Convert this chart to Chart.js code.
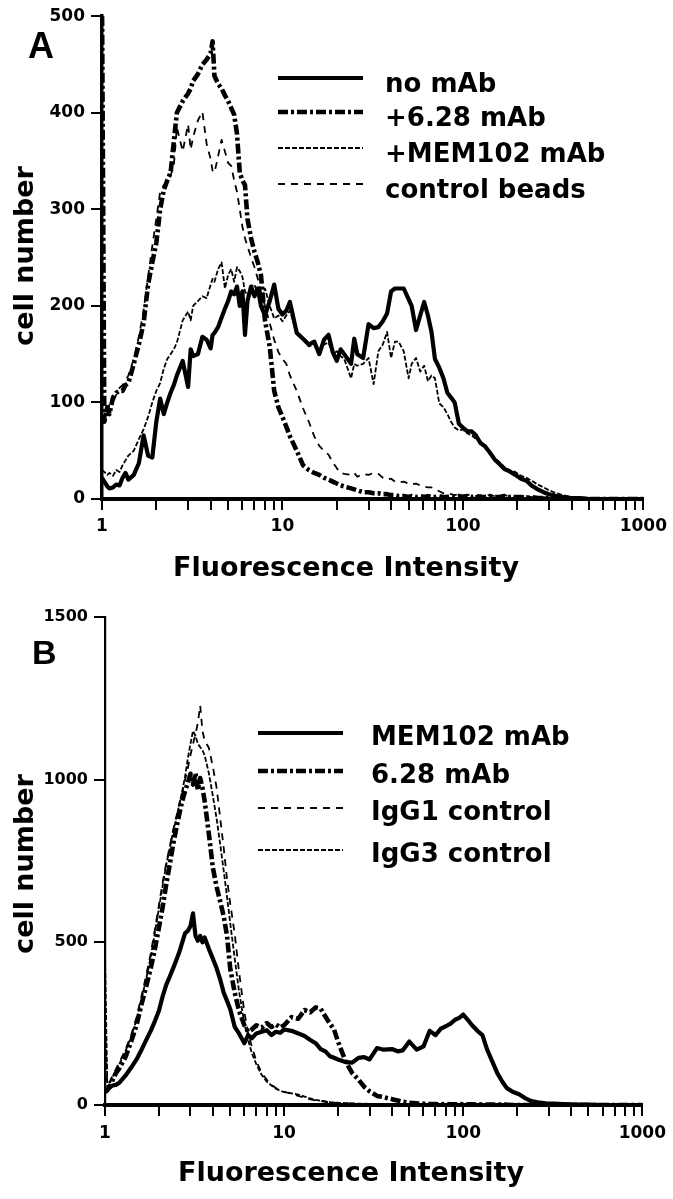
<!DOCTYPE html>
<html>
<head>
<meta charset="utf-8">
<script src="https://cdn.jsdelivr.net/npm/chart.js@4.4.1/dist/chart.umd.min.js"></script>
<style>
html,body{margin:0;padding:0;background:#fff;}
#wrap{position:relative;width:673px;height:1199px;overflow:hidden;background:#fff;}
canvas{position:absolute;left:0;}
#cA{top:0;}
#cB{top:590px;}
</style>
</head>
<body>
<div id="wrap">
<canvas id="cA" width="673" height="590"></canvas>
<canvas id="cB" width="673" height="609"></canvas>
</div>
<script>
// ---------- shared texts & ticks ----------
const xTitleText = 'Fluorescence Intensity';
const yTitleText = 'cell number';
const xTickValues = [1,2,3,4,5,6,7,8,9,10,20,30,40,50,60,70,80,90,100,200,300,400,500,600,700,800,900,1000];
const xTickLabels = [1,10,100,1000];
const yTicksA = [0,100,200,300,400,500];
const yTicksB = [0,500,1000,1500];

// ---------- panel A ----------
const labelsA = ['no mAb', '+6.28 mAb', '+MEM102 mAb', 'control beads'];
const fluorA = [
1, 1.03, 1.07, 1.1, 1.15, 1.2, 1.25, 1.3, 1.35, 1.4,
1.5, 1.6, 1.7, 1.8, 1.9, 2.0, 2.1, 2.2, 2.3, 2.4,
2.5, 2.6, 2.8, 3.0, 3.1, 3.2, 3.4, 3.6, 3.8, 4.0,
4.1, 4.2, 4.4, 4.6, 4.8, 5.0, 5.2, 5.4, 5.6, 5.8,
6.0, 6.2, 6.4, 6.7, 7.0, 7.3, 7.6, 8.0, 8.5, 9.0,
9.5, 10, 10.5, 11, 12, 13, 14, 15, 16, 17,
18, 19, 20, 21, 22, 24, 25, 26, 28, 30,
32, 34, 36, 38, 40, 42, 44, 47, 50, 52,
55, 58, 61, 64, 67, 70, 74, 78, 82, 86,
90, 95, 100, 106, 112, 118, 125, 132, 140, 150,
160, 170, 180, 195, 210, 225, 240, 260, 280, 300,
330, 360, 400, 450, 500, 560, 630, 700, 800, 900,
1000];
const noMabA = [
22, 18, 13, 11, 12, 15, 14, 22, 27, 20,
25, 37, 66, 45, 43, 80, 104, 88, 100, 110,
118, 128, 143, 116, 155, 148, 150, 168, 165, 156,
170, 172, 178, 188, 197, 205, 215, 212, 220, 200,
215, 170, 205, 220, 210, 218, 200, 190, 205, 222,
197, 191, 195, 204, 172, 166, 160, 163, 150, 165,
170, 152, 143, 155, 150, 140, 166, 150, 146, 181,
177, 178, 184, 192, 215, 218, 218, 218, 207, 200,
175, 190, 204, 190, 173, 145, 136, 125, 110, 105,
100, 78, 74, 70, 70, 66, 58, 55, 49, 41,
36, 31, 29, 25, 21, 19, 14, 10, 7, 5,
3, 2, 1, 1, 0, 0, 0, 0, 0, 0,
0];
const mab628A = [
520, 80, 95, 88, 105, 110, 112, 112, 118, 120,
140, 160, 182, 222, 245, 265, 300, 320, 330, 338,
370, 400, 412, 420, 425, 433, 440, 450, 455, 462,
474, 438, 430, 425, 418, 412, 405, 398, 378, 338,
330, 325, 290, 270, 256, 245, 232, 185, 158, 112,
95, 85, 75, 65, 50, 35, 30, 27, 25, 22,
20, 18, 16, 14, 13, 11, 10, 9, 7, 7,
6, 6, 5, 5, 4, 4, 3, 3, 2, 3,
2, 3, 2, 3, 2, 2, 3, 2, 2, 3,
2, 3, 2, 3, 2, 3, 2, 2, 3, 2,
2, 3, 2, 2, 2, 1, 2, 1, 1, 1,
1, 1, 0, 0, 0, 0, 0, 0, 0, 0,
0];
const mem102A = [
30, 28, 25, 27, 24, 30, 28, 35, 40, 45,
50, 62, 72, 85, 100, 112, 120, 135, 145, 150,
155, 162, 185, 194, 185, 200, 205, 210, 208, 222,
228, 225, 238, 245, 218, 232, 238, 225, 240, 236,
230, 215, 211, 220, 222, 212, 205, 218, 200, 187,
190, 184, 190, 195, 172, 165, 158, 160, 150, 160,
162, 150, 153, 148, 145, 125, 140, 138, 140, 146,
119, 153, 160, 173, 146, 163, 163, 153, 125, 140,
146, 132, 138, 122, 128, 125, 99, 95, 88, 80,
74, 71, 72, 68, 66, 62, 60, 55, 50, 42,
38, 33, 30, 28, 24, 22, 19, 15, 12, 9,
6, 4, 2, 1, 1, 0, 0, 0, 0, 0,
0];
const beadsA = [
85, 82, 90, 98, 100, 108, 115, 118, 122, 128,
145, 168, 195, 230, 262, 290, 318, 325, 330, 335,
345, 385, 360, 388, 362, 375, 392, 401, 368, 352,
340, 338, 355, 372, 360, 348, 345, 330, 318, 300,
282, 270, 262, 250, 240, 228, 215, 200, 182, 165,
152, 145, 140, 128, 112, 94, 80, 65, 55, 50,
46, 38, 32, 27, 26, 25, 27, 23, 26, 25,
27, 26, 22, 20, 21, 18, 17, 18, 16, 15,
16, 14, 13, 12, 12, 10, 8, 6, 5, 5,
4, 5, 4, 4, 5, 3, 4, 3, 4, 3,
3, 4, 3, 3, 2, 3, 2, 2, 2, 1,
1, 1, 1, 0, 1, 0, 0, 0, 0, 0,
0];

// ---------- panel B ----------
const labelsB = ['MEM102 mAb', '6.28 mAb', 'IgG1 control', 'IgG3 control'];
const fluorB = [
1, 1.03, 1.07, 1.1, 1.15, 1.2, 1.3, 1.4, 1.5, 1.6,
1.7, 1.8, 1.9, 2.0, 2.1, 2.2, 2.3, 2.4, 2.5, 2.6,
2.7, 2.8, 2.9, 3.0, 3.1, 3.2, 3.3, 3.4, 3.5, 3.6,
3.8, 4.0, 4.2, 4.4, 4.6, 4.8, 5.0, 5.3, 5.6, 6.0,
6.3, 6.6, 7.0, 7.5, 8.0, 8.5, 9.0, 9.5, 10, 11,
12, 13, 14, 15, 16, 17, 18, 19, 20, 22,
24, 26, 28, 30, 33, 36, 40, 43, 46, 50,
55, 60, 65, 70, 75, 80, 85, 90, 95, 100,
106, 112, 120, 128, 136, 145, 155, 165, 175, 190,
205, 220, 240, 260, 290, 320, 360, 400, 450, 500,
600, 700, 800, 1000];
const mem102B = [
45, 48, 55, 60, 62, 68, 90, 115, 140, 170,
200, 228, 258, 290, 335, 370, 395, 420, 445, 470,
500, 528, 535, 550, 589, 520, 505, 520, 500, 515,
480, 450, 420, 385, 345, 320, 295, 240, 220, 190,
215, 205, 220, 225, 230, 215, 225, 222, 232, 228,
220, 212, 200, 190, 172, 165, 150, 145, 140, 132,
130, 145, 147, 140, 175, 170, 172, 165, 168, 195,
170, 180, 228, 215, 235, 242, 250, 262, 268, 278,
262, 245, 228, 215, 170, 135, 98, 72, 52, 40,
33, 22, 12, 8, 5, 4, 3, 2, 1, 1,
0, 0, 0, 0];
const mab628B = [
40, 45, 60, 75, 98, 112, 147, 195, 245, 310,
365, 420, 480, 545, 610, 680, 740, 800, 850, 895,
935, 965, 990, 1018, 985, 1020, 968, 1005, 975, 935,
834, 730, 670, 625, 580, 520, 420, 345, 290, 245,
225, 232, 245, 238, 252, 240, 248, 238, 245, 270,
265, 292, 285, 300, 296, 272, 250, 232, 195, 135,
98, 78, 56, 42, 28, 24, 18, 14, 10, 7,
5, 4, 3, 3, 2, 3, 2, 2, 3, 2,
2, 2, 1, 2, 1, 1, 1, 1, 1, 0,
0, 0, 0, 0, 0, 0, 0, 0, 0, 0,
0, 0, 0, 0];
const igg1B = [
250, 60, 75, 90, 110, 130, 170, 215, 270, 335,
400, 465, 540, 615, 685, 745, 795, 845, 885, 925,
960, 1000, 1035, 1075, 1110, 1140, 1175, 1228, 1150, 1120,
1098, 1040, 975, 880, 790, 695, 620, 525, 410, 285,
220, 180, 135, 98, 78, 62, 52, 45, 40, 35,
28, 22, 17, 14, 12, 10, 8, 7, 6, 5,
4, 4, 3, 3, 3, 2, 2, 2, 2, 1,
1, 1, 1, 1, 0, 1, 0, 0, 1, 0,
0, 0, 0, 0, 0, 0, 0, 0, 0, 0,
0, 0, 0, 0, 0, 0, 0, 0, 0, 0,
0, 0, 0, 0];
const igg3B = [
470, 55, 70, 85, 105, 125, 165, 210, 262, 325,
390, 455, 530, 605, 675, 740, 790, 840, 880, 925,
965, 1010, 1065, 1110, 1150, 1135, 1110, 1100, 1090, 1075,
1020, 950, 880, 800, 720, 640, 560, 450, 350, 250,
200, 160, 125, 92, 72, 60, 50, 44, 40, 36,
32, 26, 20, 16, 13, 11, 9, 8, 7, 6,
5, 4, 4, 3, 3, 3, 2, 2, 2, 2,
1, 1, 1, 1, 1, 1, 0, 1, 0, 0,
0, 0, 0, 0, 0, 0, 0, 0, 0, 0,
0, 0, 0, 0, 0, 0, 0, 0, 0, 0,
0, 0, 0, 0];

// ---------- drawing ----------
Chart.defaults.font.family = "'DejaVu Sans', sans-serif";
Chart.defaults.font.weight = 'bold';
Chart.defaults.color = '#000';

const lineStyles = {
  solid:   { borderWidth: 4.2, borderDash: [] },
  dashDot: { borderWidth: 4.6, borderDash: [10, 3, 3, 3] },
  fine:    { borderWidth: 1.8, borderDash: [5, 2] },
  dashed:  { borderWidth: 1.8, borderDash: [7, 6] }
};

function series(xs, ys) { return xs.map((x, i) => ({ x: x, y: ys[i] })); }

function makeDataset(label, xs, ys, style) {
  const s = lineStyles[style];
  return {
    label: label,
    data: series(xs, ys),
    borderColor: '#000',
    borderWidth: s.borderWidth,
    borderDash: s.borderDash,
    borderJoinStyle: 'round',
    borderCapStyle: 'butt',
    pointRadius: 0,
    tension: 0,
    fill: false
  };
}

const decor = {
  id: 'decor',
  afterDraw(chart, args, o) {
    const ctx = chart.ctx;
    ctx.save();
    ctx.fillStyle = '#000';
    ctx.strokeStyle = '#000';
    ctx.textBaseline = 'alphabetic';
    ctx.font = o.letterFont;
    ctx.textAlign = 'left';
    ctx.fillText(o.letter, o.letterX, o.letterY);
    ctx.font = o.titleFont;
    ctx.textAlign = 'center';
    ctx.fillText(o.xTitle, o.xTitleX, o.xTitleY);
    ctx.save();
    ctx.translate(o.yTitleX, o.yTitleY);
    ctx.rotate(-Math.PI / 2);
    ctx.fillText(o.yTitle, 0, 0);
    ctx.restore();
    ctx.font = o.legendFont;
    ctx.textAlign = 'left';
    chart.data.datasets.forEach((ds, i) => {
      const y = o.legendRows[i];
      ctx.save();
      ctx.lineWidth = ds.borderWidth;
      ctx.setLineDash(ds.borderDash || []);
      ctx.lineCap = 'butt';
      ctx.beginPath();
      ctx.moveTo(o.legendX1, y);
      ctx.lineTo(o.legendX2, y);
      ctx.stroke();
      ctx.restore();
      ctx.fillText(ds.label, o.legendTextX, y + o.legendTextDy);
    });
    ctx.restore();
  }
};

function makeChart(id, p) {
  return new Chart(document.getElementById(id), {
    type: 'line',
    data: { datasets: p.datasets },
    plugins: [decor],
    options: {
      responsive: false,
      animation: false,
      events: [],
      layout: { padding: { left: 0, top: p.top, right: p.right, bottom: 0 } },
      plugins: {
        legend: { display: false },
        tooltip: { enabled: false },
        decor: p.decor
      },
      scales: {
        x: {
          type: 'logarithmic',
          min: 1, max: 1000,
          afterBuildTicks: (s) => { s.ticks = xTickValues.map(v => ({ value: v })); },
          afterFit: (s) => { s.height = p.xHeight; },
          ticks: {
            autoSkip: false, maxRotation: 0, minRotation: 0, padding: p.xTickPad,
            font: { size: p.xTickSize, weight: 'bold' }, color: '#000',
            callback: (v) => xTickLabels.includes(v) ? String(v) : ''
          },
          grid: { drawOnChartArea: false, drawTicks: true, tickLength: 11, color: '#000', lineWidth: 2 },
          border: { display: true, color: '#000', width: 4 }
        },
        y: {
          type: 'linear',
          min: 0, max: p.yMax,
          afterBuildTicks: (s) => { s.ticks = p.yTicks.map(v => ({ value: v })); },
          afterFit: (s) => { s.width = p.yWidth; },
          ticks: {
            padding: p.yTickPad,
            font: { size: p.yTickSize, weight: 'bold' }, color: '#000',
            callback: (v) => String(v)
          },
          grid: { drawOnChartArea: false, drawTicks: true, tickLength: 11, color: '#000', lineWidth: 2 },
          border: { display: true, color: '#000', width: p.yBorder }
        }
      }
    }
  });
}

makeChart('cA', {
  datasets: [
    makeDataset(labelsA[0], fluorA, noMabA, 'solid'),
    makeDataset(labelsA[1], fluorA, mab628A, 'dashDot'),
    makeDataset(labelsA[2], fluorA, mem102A, 'fine'),
    makeDataset(labelsA[3], fluorA, beadsA, 'dashed')
  ],
  top: 12, right: 29, xHeight: 91, yWidth: 102, yMax: 500, yTicks: yTicksA,
  xTickPad: 6, xTickSize: 17, yTickPad: 6, yTickSize: 17, yBorder: 3.5,
  decor: {
    letter: 'A', letterFont: "bold 36px 'Liberation Sans', sans-serif", letterX: 28, letterY: 58,
    titleFont: "bold 27px 'DejaVu Sans', sans-serif",
    xTitle: xTitleText, xTitleX: 346, xTitleY: 576,
    yTitle: yTitleText, yTitleX: 33, yTitleY: 256,
    legendFont: "bold 26px 'DejaVu Sans', sans-serif",
    legendRows: [78, 112, 148, 184], legendX1: 278, legendX2: 363, legendTextX: 385, legendTextDy: 14
  }
});

makeChart('cB', {
  datasets: [
    makeDataset(labelsB[0], fluorB, mem102B, 'solid'),
    makeDataset(labelsB[1], fluorB, mab628B, 'dashDot'),
    makeDataset(labelsB[2], fluorB, igg1B, 'dashed'),
    makeDataset(labelsB[3], fluorB, igg3B, 'fine')
  ],
  top: 27, right: 25, xHeight: 94, yWidth: 105, yMax: 1500, yTicks: yTicksB,
  xTickPad: 7, xTickSize: 17, yTickPad: 6, yTickSize: 16, yBorder: 2.2,
  decor: {
    letter: 'B', letterFont: "bold 34px 'Liberation Sans', sans-serif", letterX: 32, letterY: 74,
    titleFont: "bold 27px 'DejaVu Sans', sans-serif",
    xTitle: xTitleText, xTitleX: 351, xTitleY: 591,
    yTitle: yTitleText, yTitleX: 33, yTitleY: 274,
    legendFont: "bold 26px 'DejaVu Sans', sans-serif",
    legendRows: [143, 181, 218, 260], legendX1: 258, legendX2: 343, legendTextX: 371, legendTextDy: 12
  }
});
</script>
</body>
</html>
